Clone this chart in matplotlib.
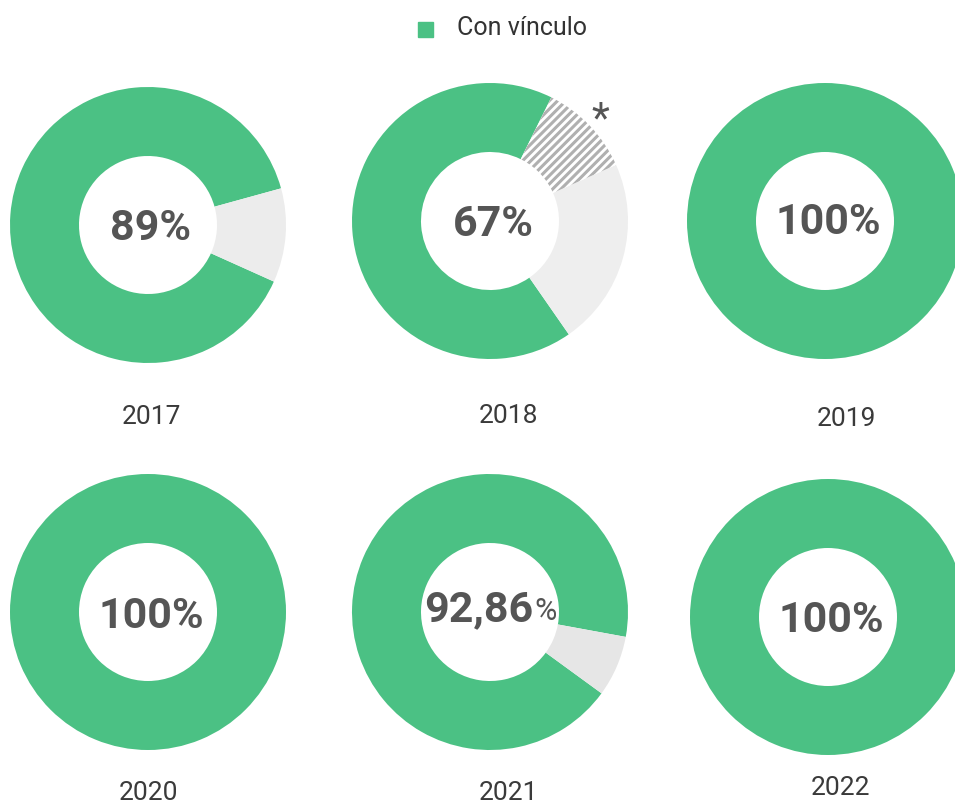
import matplotlib.pyplot as plt

plt.rcParams["font.family"] = ["Roboto", "DejaVu Sans"]
plt.rcParams["hatch.linewidth"] = 2.2

W, H = 955, 806

years = ["2017", "2018", "2019", "2020", "2021", "2022"]
# share "Con vínculo", rest, hatched (*)
con_vinculo = [89, 67, 100, 100, 92.86, 100]
resto = [11, 22, 0, 0, 7.14, 0]
asterisco = [0, 11, 0, 0, 0, 0]
labels = ["89%", "67%", "100%", "100%", "92,86", "100%"]
start_angles = [15.4, 63.6, 90, 90, -10.4, 90]

green = "#4bc184"
light_gray = ["#ececec", "#eeeeee", "#ececec", "#ececec", "#e6e6e6", "#ececec"]
text_col = "#555555"

# donut centres / radius in pixels, label positions
centres = [(148, 225), (490, 221), (825, 221), (148, 612), (490, 612), (828, 617)]
R = 138
year_pos = [(151, 417), (508, 416), (846, 419), (148, 793), (508, 793), (840, 788)]
label_y = [228, 225, 222, 617, 610, 621]

fig = plt.figure(figsize=(W / 100, H / 100), dpi=100)

for i, year in enumerate(years):
    cx, cy = centres[i]
    ax = fig.add_axes([(cx - R) / W, 1 - (cy + R) / H, 2 * R / W, 2 * R / H])
    vals = [con_vinculo[i]]
    cols = [green]
    if resto[i] > 0:
        vals.append(resto[i])
        cols.append(light_gray[i])
    if asterisco[i] > 0:
        vals.append(asterisco[i])
        cols.append("white")
    wedges, _ = ax.pie(vals, colors=cols, startangle=start_angles[i],
                       counterclock=True, radius=1,
                       wedgeprops=dict(width=0.5, linewidth=0))
    if asterisco[i] > 0:
        w = wedges[-1]
        w.set_hatch("////")
        w.set_edgecolor("#b0b0b0")
        w.set_linewidth(0)
    ax.set_xlim(-1, 1)
    ax.set_ylim(-1, 1)
    ax.axis("off")

    # centre label
    if year == "2021":
        fig.text(533 / W, 1 - label_y[i] / H, labels[i], ha="right", va="center",
                 fontsize=31, fontweight="bold", color=text_col)
        fig.text(534 / W, 1 - (label_y[i] + 2) / H, "%", ha="left", va="center",
                 fontsize=22, color=text_col)
    else:
        fig.text(cx / W + 3 / W, 1 - label_y[i] / H, labels[i], ha="center",
                 va="center", fontsize=31, fontweight="bold", color=text_col)

    yx, yy = year_pos[i]
    fig.text(yx / W, 1 - yy / H, year, ha="center", va="center",
             fontsize=19, fontweight="normal", color="#3a3a3a")

# asterisk for 2018
fig.text(600 / W, 1 - 120 / H, "*", ha="center", va="center",
         fontsize=30, color=text_col)

# legend
fig.patches.append(plt.Rectangle((418 / W, 1 - 37 / H), 15 / W, 15 / H,
                                 transform=fig.transFigure, color=green))
fig.text(457 / W, 1 - 28 / H, "Con vínculo", ha="left", va="center",
         fontsize=18, fontweight="normal", color="#333333")

plt.savefig("out.png", dpi=100)
